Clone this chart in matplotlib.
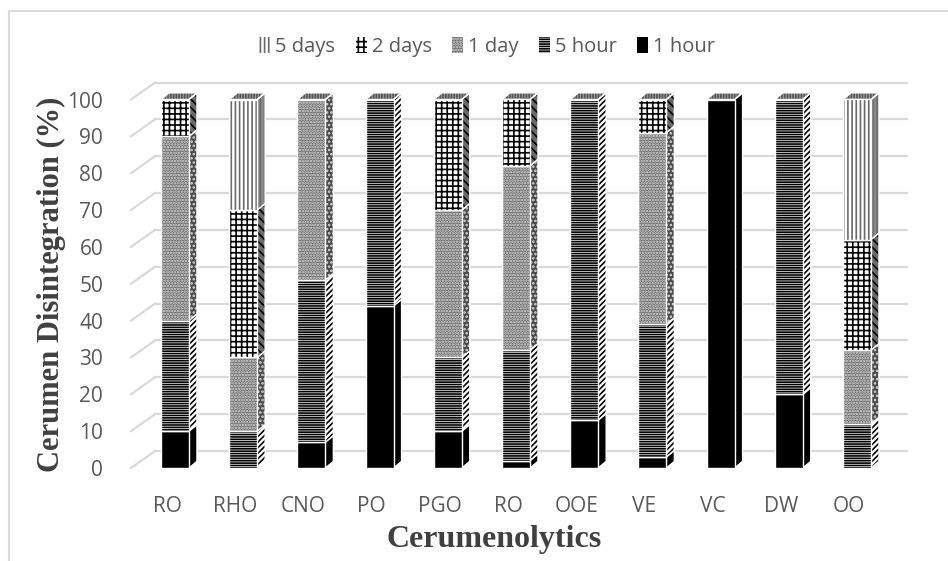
import numpy as np
import matplotlib
matplotlib.use("Agg")
import matplotlib.pyplot as plt
from matplotlib.patches import Patch, Rectangle, Polygon
import matplotlib.transforms as mtransforms

# ---- data ----
categories = ["RO", "RHO", "CNO", "PO", "PGO", "RO", "OOE", "VE", "VC", "DW", "OO"]
hour_1 = [10, 0, 7, 44, 10, 2, 13, 3, 100, 20, 0]
hour_5 = [30, 10, 44, 56, 20, 30, 87, 36, 0, 80, 12]
day_1 = [50, 20, 49, 0, 40, 50, 0, 52, 0, 0, 20]
days_2 = [10, 40, 0, 0, 30, 18, 0, 9, 0, 0, 30]
days_5 = [0, 30, 0, 0, 0, 0, 0, 0, 0, 0, 38]
series_names = ["1 hour", "5 hour", "1 day", "2 days", "5 days"]
yticks = np.arange(0, 101, 10)

# look of each series: front face, side face, top face
styles = {
    "1 hour": dict(fc="black", hc="black", hatch=None, side_fc="black", side_hatch=None, top_fc="#9a9a9a"),
    "5 hour": dict(fc="white", hc="black", hatch="-------", side_fc="white", side_hatch="//////", top_fc="#9a9a9a"),
    "1 day": dict(fc="#6e6e6e", hc="#d8d8d8", hatch="......", side_fc="#4a4a4a", side_hatch="....", top_fc="#9a9a9a"),
    "2 days": dict(fc="white", hc="black", hatch="+++", side_fc="#6a6a6a", side_hatch="\\\\\\\\", top_fc="#9a9a9a"),
    "5 days": dict(fc="white", hc="#6a6a6a", hatch="||||", side_fc="#8a8a8a", side_hatch="||||", top_fc="#a0a0a0"),
}

text_gray = "#595959"
grid_gray = "#d9d9d9"
plt.rcParams["font.family"] = ["Open Sans", "DejaVu Sans"]
plt.rcParams["hatch.linewidth"] = 1.2

fig = plt.figure(figsize=(9.48, 5.61), dpi=100)
W, H = 948, 561
ax = fig.add_axes([131 / W, (H - 468) / H, (907 - 131) / W, (468 - 99.5) / H])
ax.set_xlim(-0.528, 10.85)
ax.set_ylim(0, 100)

# 3D-ish geometry (data units)
bar_shift = 0.117
bar_w = 0.41
depth_x = 0.117
depth_y = 1.8
back_dy = 17  # pixels the back wall sits above the front

# back wall gridlines with slanted floor part
back = mtransforms.offset_copy(ax.get_yaxis_transform(), fig=fig, x=0, y=back_dy, units="dots")
slant_x0 = 0.0
slant_x1 = 24 / 776
for v in yticks:
    ax.plot([slant_x1, 1.0], [v, v], transform=back, color=grid_gray, lw=1.6, zorder=0, clip_on=False)
    ax.plot([slant_x0, slant_x1], [v, v + back_dy / 3.685], transform=ax.get_yaxis_transform(),
            color=grid_gray, lw=1.6, zorder=0, clip_on=False)

x = np.arange(len(categories))
xb = x + bar_shift
values = [hour_1, hour_5, day_1, days_2, days_5]
bottom = np.zeros(len(categories))
totals = np.sum(values, axis=0)

z = 2
for name, vals in zip(series_names, values):
    st = styles[name]
    vals = np.array(vals, dtype=float)
    for i in range(len(categories)):
        if vals[i] <= 0:
            continue
        y0, y1 = bottom[i], bottom[i] + vals[i]
        xl, xr = xb[i] - bar_w / 2, xb[i] + bar_w / 2
        # side face
        side = Polygon([[xr, y0], [xr + depth_x, y0 + depth_y], [xr + depth_x, y1 + depth_y], [xr, y1]],
                       closed=True, facecolor=st["side_fc"], edgecolor=st["hc"], lw=0,
                       hatch=st["side_hatch"], zorder=z, clip_on=False)
        ax.add_patch(side)
        ax.add_patch(Polygon(side.get_xy(), closed=True, fill=False, edgecolor="white", lw=1.0,
                             zorder=z + 0.5, clip_on=False))
        # top face on the highest segment
        if abs(y1 - totals[i]) < 1e-9:
            top = Polygon([[xl, y1], [xr, y1], [xr + depth_x, y1 + depth_y], [xl + depth_x, y1 + depth_y]],
                          closed=True, facecolor=st["top_fc"], edgecolor="#555555", lw=0,
                          hatch="||||||", zorder=z, clip_on=False)
            ax.add_patch(top)
            ax.add_patch(Polygon(top.get_xy(), closed=True, fill=False, edgecolor="white", lw=1.0,
                                 zorder=z + 0.5, clip_on=False))
    # front face
    ax.bar(xb, vals, bar_w, bottom=bottom, color=st["fc"], edgecolor=st["hc"], lw=0,
           hatch=st["hatch"], zorder=z + 1, clip_on=False)
    ax.bar(xb[vals > 0], vals[vals > 0], bar_w, bottom=bottom[vals > 0], fill=False,
           edgecolor="white", lw=1.0, zorder=z + 1.5, clip_on=False)
    bottom += vals
    z += 2

for s in ax.spines.values():
    s.set_visible(False)
ax.set_xticks(x)
ax.set_xticklabels(categories)
ax.set_yticks(yticks)
ax.tick_params(axis="both", length=0, colors=text_gray, labelsize=15)
ax.tick_params(axis="y", pad=20)
ax.tick_params(axis="x", pad=20)
ax.patch.set_visible(False)

fig.text(51 / W, 1 - 284 / H, "Cerumen Disintegration (%)", rotation=90, ha="center", va="center",
         family=["Liberation Serif", "DejaVu Serif"], weight="bold", fontsize=22, color="#404040")
fig.text(494 / W, 1 - 540 / H, "Cerumenolytics", ha="center", va="center",
         family=["Liberation Serif", "DejaVu Serif"], weight="bold", fontsize=23, color="#404040")

# legend (reverse order like the original)
handles = []
for name in series_names[::-1]:
    st = styles[name]
    handles.append(Patch(facecolor=st["fc"], edgecolor=st["hc"], lw=0, hatch=st["hatch"], label=name))
fig.legend(handles=handles, loc="center", bbox_to_anchor=(487 / W, 1 - 47 / H), ncol=5, frameon=False,
           fontsize=14.5, labelcolor=text_gray, handlelength=0.55, handleheight=0.8,
           handletextpad=0.25, columnspacing=1.0)

# outer chart frame (cropped at right and bottom)
fig.patches.append(Rectangle((9 / W, -0.2), 1.5, 1.2 - 11 / H, transform=fig.transFigure,
                             fill=False, edgecolor=grid_gray, lw=1.5))

fig.savefig("out.png", dpi=100)
